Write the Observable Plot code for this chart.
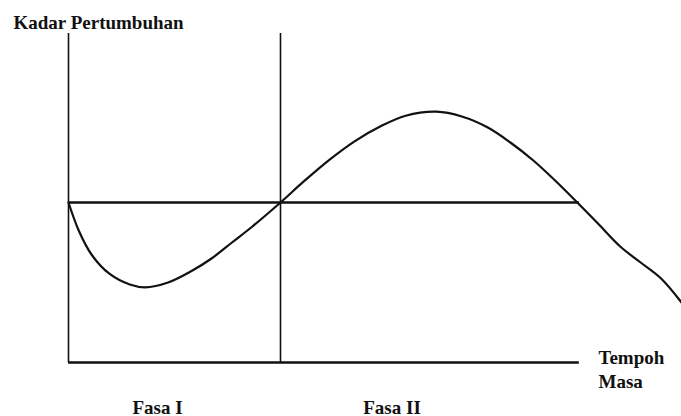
<!DOCTYPE html>
<html>
<head>
<meta charset="utf-8">
<script src="https://cdn.jsdelivr.net/npm/d3@7"></script>
<script src="https://cdn.jsdelivr.net/npm/@observablehq/plot@0.6"></script>
<style>
  html, body { margin: 0; padding: 0; background: #fff; }
  #chart svg { display: block; }
</style>
</head>
<body>
<div id="chart"></div>
<script>
// Time (arbitrary units) and growth rate (arbitrary units, 0 = reference level)
const timeValues = [0, 0.2, 0.45, 0.8, 1.2, 1.5, 1.95, 2.4, 2.8, 3.2, 3.6, 4.15,
  4.6, 5.1, 5.6, 6.1, 6.6, 7.2, 7.7, 8.2, 8.65, 9.1, 9.5, 9.96,
  10.36, 10.8, 11.2, 11.6, 12.0];
const growthValues = [0, -0.7, -1.3, -1.78, -2.05, -2.12, -2.0, -1.72, -1.4, -1.0, -0.6, 0,
  0.52, 1.06, 1.53, 1.9, 2.17, 2.27, 2.15, 1.88, 1.5, 1.05, 0.58, 0,
  -0.52, -1.1, -1.5, -1.9, -2.5];

const verticalRules = [0, 4.15];       // y axis and phase boundary (time)
const horizontalRules = [0, -4];       // reference level and time axis (growth)
const ruleEnd = 10.0;                  // time where horizontal lines stop
const axisTop = 4.225;                 // growth value at top of vertical lines

const yTitle = "Kadar Pertumbuhan";
const xTitleLines = ["Tempoh", "Masa"];
const phaseLabels = ["Fasa I", "Fasa II"];
const phaseCenters = [1.742, 6.333];

const curve = timeValues.map((t, i) => ({t, g: growthValues[i]}));

const font = "'Liberation Serif', 'Times New Roman', serif";

const chart = Plot.plot({
  width: 681,
  height: 416,
  marginLeft: 68,
  marginRight: 0,
  marginTop: 42,
  marginBottom: 54,
  x: {domain: [0, 12], axis: null},
  y: {domain: [-4, 4], axis: null},
  style: {fontFamily: font, background: "#fff"},
  marks: [
    Plot.ruleX(verticalRules, {x: d => d, y1: -4, y2: axisTop, stroke: "#111", strokeWidth: 1.6}),
    Plot.ruleY(horizontalRules, {y: d => d, x1: 0, x2: ruleEnd, stroke: "#111", strokeWidth: 2.4}),
    Plot.line(curve, {x: "t", y: "g", curve: "catmull-rom", stroke: "#111", strokeWidth: 2.2}),
    Plot.text([yTitle], {x: -1.077, y: 4.35, text: d => d, textAnchor: "start", lineAnchor: "bottom",
      fontSize: 19, fontWeight: "bold", fill: "#111"}),
    Plot.text([xTitleLines[0]], {x: 10.375, y: -4.025, text: d => d, textAnchor: "start", lineAnchor: "bottom",
      fontSize: 19, fontWeight: "bold", fill: "#111"}),
    Plot.text([xTitleLines[1]], {x: 10.375, y: -4.625, text: d => d, textAnchor: "start", lineAnchor: "bottom",
      fontSize: 19, fontWeight: "bold", fill: "#111"}),
    Plot.text(phaseLabels, {x: (d, i) => phaseCenters[i], y: -5.275, text: d => d, textAnchor: "middle", lineAnchor: "bottom",
      fontSize: 19, fontWeight: "bold", fill: "#111"})
  ]
});

document.getElementById("chart").appendChild(chart);
</script>
</body>
</html>
